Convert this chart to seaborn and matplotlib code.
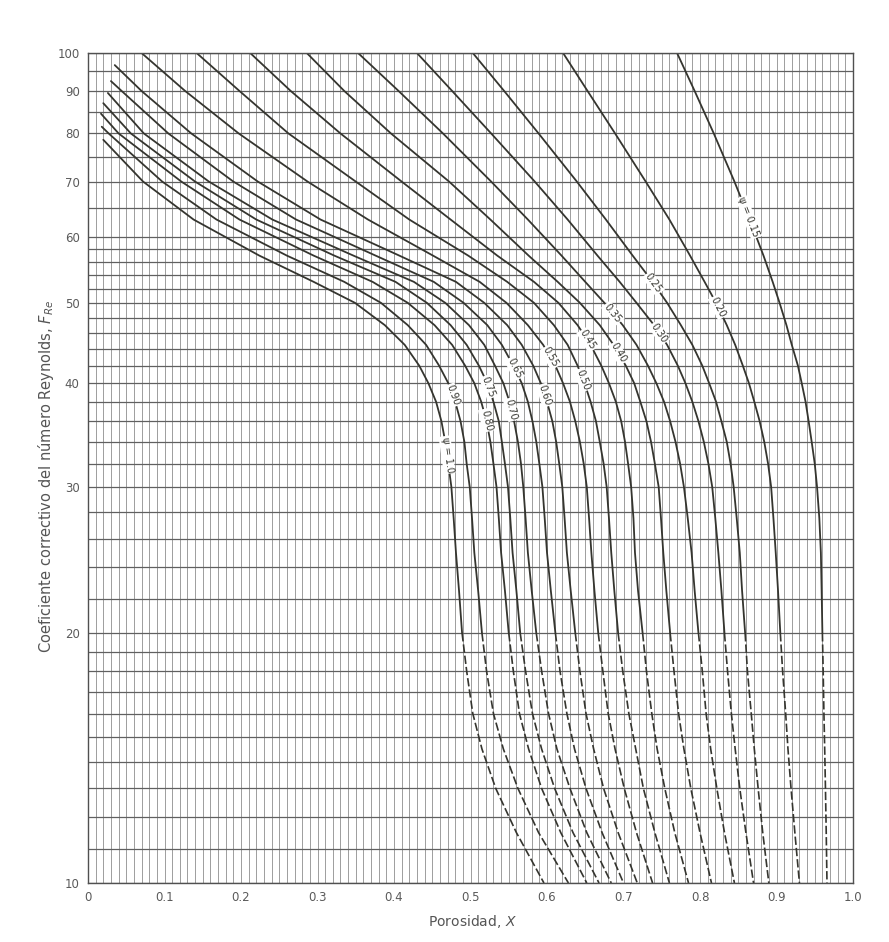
import numpy as np
import pandas as pd
import matplotlib
matplotlib.use("Agg")
import matplotlib.pyplot as plt
from matplotlib.ticker import FixedLocator, FixedFormatter, NullFormatter
import seaborn as sns

nan = np.nan

# Fre levels at which the curves were read (top of chart to bottom)
FRE_LEVELS = [100, 90, 80, 70, 63, 57, 53, 50, 47, 44.5, 42, 40, 38, 36, 34, 32, 30,
              27.5, 25, 22.5, 20, 18, 16, 14.5, 13, 11.5, 10]

PSI_LABELS = ["1.0", "0.90", "0.80", "0.75", "0.70", "0.65", "0.60", "0.55",
              "0.50", "0.45", "0.40", "0.35", "0.30", "0.25", "0.20", "0.15"]

# porosity X read on each curve at FRE_LEVELS
X_PSI_100 = [nan, nan, nan, 0.072, 0.138, 0.224, 0.295, 0.349, 0.388, 0.414, 0.433, 0.445, 0.455, 0.462, 0.467, 0.471, 0.475, 0.478, 0.481, 0.485, 0.489, 0.495, 0.503, 0.515, 0.533, 0.560, 0.596]
X_PSI_090 = [nan, nan, 0.027, 0.097, 0.168, 0.260, 0.335, 0.383, 0.418, 0.442, 0.459, 0.471, 0.480, 0.487, 0.492, 0.495, 0.499, 0.502, 0.505, 0.510, 0.515, 0.521, 0.530, 0.543, 0.562, 0.589, 0.628]
X_PSI_080 = [nan, nan, 0.040, 0.122, 0.198, 0.295, 0.372, 0.418, 0.453, 0.476, 0.493, 0.505, 0.514, 0.521, 0.526, 0.530, 0.534, 0.537, 0.540, 0.545, 0.550, 0.556, 0.564, 0.576, 0.593, 0.618, 0.652]
X_PSI_075 = [nan, nan, 0.056, 0.140, 0.220, 0.322, 0.402, 0.443, 0.474, 0.495, 0.511, 0.522, 0.530, 0.537, 0.541, 0.545, 0.549, 0.552, 0.555, 0.560, 0.565, 0.572, 0.581, 0.593, 0.610, 0.634, 0.668]
X_PSI_070 = [nan, nan, 0.073, 0.158, 0.241, 0.347, 0.426, 0.467, 0.498, 0.518, 0.532, 0.543, 0.551, 0.557, 0.562, 0.566, 0.569, 0.572, 0.575, 0.580, 0.586, 0.593, 0.602, 0.613, 0.630, 0.652, 0.684]
X_PSI_065 = [nan, 0.044, 0.105, 0.190, 0.272, 0.376, 0.452, 0.491, 0.522, 0.541, 0.556, 0.567, 0.575, 0.581, 0.586, 0.590, 0.594, 0.597, 0.600, 0.605, 0.611, 0.617, 0.626, 0.636, 0.651, 0.672, 0.700]
X_PSI_060 = [nan, 0.070, 0.135, 0.222, 0.304, 0.407, 0.481, 0.518, 0.548, 0.567, 0.582, 0.592, 0.600, 0.607, 0.612, 0.616, 0.620, 0.623, 0.626, 0.631, 0.637, 0.643, 0.651, 0.661, 0.674, 0.693, 0.718]
X_PSI_055 = [0.070, 0.127, 0.197, 0.287, 0.366, 0.451, 0.512, 0.547, 0.575, 0.595, 0.611, 0.621, 0.630, 0.637, 0.643, 0.648, 0.652, 0.655, 0.658, 0.662, 0.667, 0.673, 0.680, 0.689, 0.701, 0.717, 0.738]
X_PSI_050 = [0.142, 0.198, 0.262, 0.350, 0.420, 0.497, 0.548, 0.583, 0.609, 0.627, 0.640, 0.649, 0.657, 0.664, 0.669, 0.674, 0.678, 0.681, 0.684, 0.688, 0.693, 0.699, 0.707, 0.716, 0.726, 0.741, 0.760]
X_PSI_045 = [0.212, 0.265, 0.330, 0.410, 0.474, 0.535, 0.583, 0.615, 0.640, 0.657, 0.671, 0.681, 0.690, 0.697, 0.702, 0.706, 0.710, 0.713, 0.715, 0.719, 0.725, 0.730, 0.737, 0.744, 0.754, 0.767, 0.785]
X_PSI_040 = [0.286, 0.335, 0.396, 0.472, 0.526, 0.576, 0.614, 0.643, 0.669, 0.687, 0.703, 0.714, 0.722, 0.730, 0.736, 0.741, 0.746, 0.749, 0.752, 0.756, 0.761, 0.766, 0.772, 0.779, 0.788, 0.800, 0.815]
X_PSI_035 = [0.353, 0.406, 0.464, 0.527, 0.575, 0.619, 0.650, 0.675, 0.699, 0.717, 0.732, 0.743, 0.753, 0.761, 0.768, 0.774, 0.779, 0.784, 0.789, 0.793, 0.798, 0.803, 0.808, 0.814, 0.822, 0.832, 0.845]
X_PSI_030 = [0.430, 0.476, 0.527, 0.584, 0.627, 0.666, 0.695, 0.717, 0.740, 0.757, 0.771, 0.781, 0.790, 0.798, 0.805, 0.811, 0.816, 0.820, 0.824, 0.828, 0.832, 0.836, 0.841, 0.846, 0.852, 0.860, 0.870]
X_PSI_025 = [0.503, 0.544, 0.589, 0.639, 0.677, 0.712, 0.738, 0.757, 0.775, 0.790, 0.803, 0.812, 0.821, 0.828, 0.835, 0.840, 0.844, 0.848, 0.852, 0.855, 0.859, 0.862, 0.867, 0.871, 0.876, 0.882, 0.890]
X_PSI_020 = [0.621, 0.653, 0.689, 0.729, 0.760, 0.787, 0.806, 0.821, 0.835, 0.846, 0.856, 0.864, 0.871, 0.878, 0.884, 0.889, 0.893, 0.896, 0.899, 0.902, 0.905, 0.908, 0.912, 0.915, 0.919, 0.924, 0.930]
X_PSI_015 = [0.770, 0.793, 0.818, 0.845, 0.865, 0.883, 0.895, 0.904, 0.913, 0.920, 0.928, 0.933, 0.938, 0.942, 0.946, 0.950, 0.953, 0.956, 0.958, 0.959, 0.960, 0.961, 0.962, 0.963, 0.964, 0.965, 0.966]

# starting points of the curves that begin inside the chart (near the left edge)
START_X   = [0.020, 0.018, 0.017, 0.020, 0.026, 0.030, 0.035, nan, nan, nan, nan, nan, nan, nan, nan, nan]
START_FRE = [78.6, 81.5, 84.5, 87.0, 89.5, 92.5, 96.7, nan, nan, nan, nan, nan, nan, nan, nan, nan]

# Fre at which each curve label sits
LABEL_FRE = [32.8, 38.7, 36.1, 39.6, 37.2, 41.7, 38.7, 43.0, 40.4, 45.1, 43.5, 48.6, 46.0, 52.8, 49.4, 63.4]

DASH_BELOW = 20  # curves are drawn dashed below this Fre

X_TICKS = [0, 0.1, 0.2, 0.3, 0.4, 0.5, 0.6, 0.7, 0.8, 0.9, 1.0]
X_TICK_LABELS = ["0", "0.1", "0.2", "0.3", "0.4", "0.5", "0.6", "0.7", "0.8", "0.9", "1.0"]
Y_TICKS = [10, 20, 30, 40, 50, 60, 70, 80, 90, 100]
Y_TICK_LABELS = ["10", "20", "30", "40", "50", "60", "70", "80", "90", "100"]
Y_MINOR = [11, 12, 13, 14, 15, 16, 17, 18, 19, 22, 24, 26, 28, 32, 34, 36, 38,
           42, 44, 46, 48, 52, 54, 56, 58, 65, 75, 85, 95]

ALL_X = [X_PSI_100, X_PSI_090, X_PSI_080, X_PSI_075, X_PSI_070, X_PSI_065, X_PSI_060,
         X_PSI_055, X_PSI_050, X_PSI_045, X_PSI_040, X_PSI_035, X_PSI_030, X_PSI_025,
         X_PSI_020, X_PSI_015]

# ---------- build long table ----------
rows = []
for i, (lab, xs) in enumerate(zip(PSI_LABELS, ALL_X)):
    pts = []
    if not np.isnan(START_X[i]):
        pts.append((START_X[i], START_FRE[i]))
    for xv, fv in zip(xs, FRE_LEVELS):
        if not np.isnan(xv):
            pts.append((xv, fv))
    for xv, fv in pts:
        if fv >= DASH_BELOW:
            rows.append(dict(psi=lab, x=xv, fre=fv, part="solid"))
        if fv <= DASH_BELOW:
            rows.append(dict(psi=lab, x=xv, fre=fv, part="dashed"))
df = pd.DataFrame(rows)

# ---------- figure ----------
sns.set_style("white")
plt.rcParams["font.family"] = ["DejaVu Sans"]

W, H = 889, 942
fig = plt.figure(figsize=(W / 100, H / 100), dpi=100)
fig.patch.set_facecolor("white")
ax = fig.add_axes([88 / W, (H - 883) / H, 765 / W, 830 / H])

ax.set_yscale("log")
ax.set_xlim(0, 1.0)
ax.set_ylim(10, 100)

curve_color = "#35352f"
solid = df[df.part == "solid"]
dashed = df[df.part == "dashed"]
sns.lineplot(data=solid, x="x", y="fre", units="psi", estimator=None, sort=False,
             color=curve_color, lw=1.3, ax=ax, legend=False)
sns.lineplot(data=dashed, x="x", y="fre", units="psi", estimator=None, sort=False,
             color=curve_color, lw=1.2, ax=ax, legend=False, linestyle=(0, (5, 1.8)))

# ticks and grid
ax.xaxis.set_major_locator(FixedLocator(X_TICKS))
ax.xaxis.set_major_formatter(FixedFormatter(X_TICK_LABELS))
ax.xaxis.set_minor_locator(FixedLocator([k / 100 for k in range(1, 100)]))
ax.yaxis.set_major_locator(FixedLocator(Y_TICKS))
ax.yaxis.set_major_formatter(FixedFormatter(Y_TICK_LABELS))
ax.yaxis.set_minor_locator(FixedLocator(Y_MINOR))
ax.yaxis.set_minor_formatter(NullFormatter())

ax.tick_params(which="both", length=0)
ax.tick_params(axis="y", pad=6, labelsize=8.5, labelcolor="#5a5a5a")
ax.tick_params(axis="x", pad=6, labelsize=8.5, labelcolor="#5a5a5a")

ax.xaxis.grid(True, which="both", color="#8e8e8e", lw=0.6)
ax.yaxis.grid(True, which="both", color="#606060", lw=0.9)
ax.set_axisbelow(True)
for sp in ax.spines.values():
    sp.set_color("#505050")
    sp.set_linewidth(1.0)

ax.set_xlabel("Porosidad, $X$", fontsize=10, color="#555555")
ax.xaxis.set_label_coords(0.502, -0.036)
ax.set_ylabel("Coeficiente correctivo del número Reynolds, $F_{Re}$", fontsize=10.5, color="#555555")
ax.yaxis.set_label_coords(-0.042, 0.49)

# curve labels, placed on the curves and rotated along them
fig.canvas.draw()
for i, lab in enumerate(PSI_LABELS):
    cur = df[df.psi == lab].drop_duplicates(subset=["x", "fre"]).sort_values("fre")
    lf = np.log10(cur.fre.values)
    cx = cur.x.values
    f0 = LABEL_FRE[i]
    x0 = np.interp(np.log10(f0), lf, cx)
    fa, fb = f0 * 1.05, f0 / 1.05
    xa = np.interp(np.log10(fa), lf, cx)
    xb = np.interp(np.log10(fb), lf, cx)
    pa = ax.transData.transform((xa, fa))
    pb = ax.transData.transform((xb, fb))
    ang = np.degrees(np.arctan2(pb[1] - pa[1], pb[0] - pa[0]))
    text = ("ψ = " + lab) if lab in ("1.0", "0.15") else lab
    ax.text(x0, f0, text, rotation=ang, rotation_mode="anchor", ha="center", va="center",
            fontsize=7, color="#35352f",
            bbox=dict(facecolor="white", edgecolor="none", pad=0.6))

fig.savefig("out.png", dpi=100, facecolor="white")
